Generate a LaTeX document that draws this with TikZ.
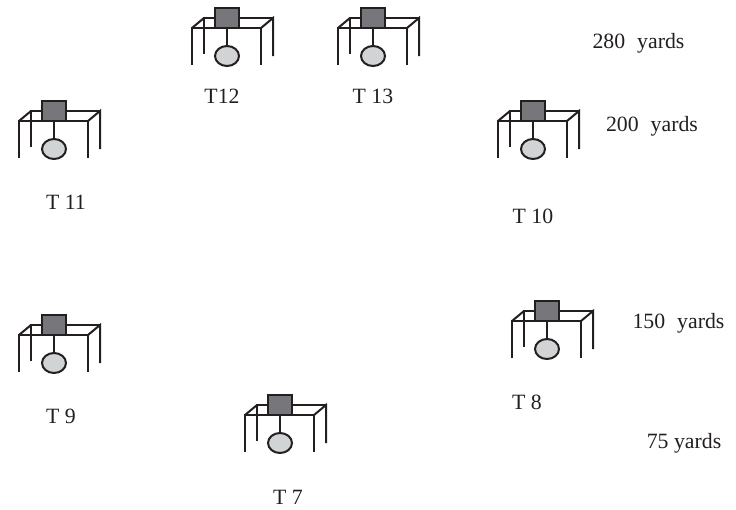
\documentclass[tikz,border=0pt]{standalone}
\usepackage{fontspec}
\setmainfont{Liberation Serif}
\usepackage{xcolor}
\usetikzlibrary{positioning,shapes.geometric}
\definecolor{frameline}{HTML}{231F20}
\definecolor{boxgray}{HTML}{77777B}
\definecolor{holegray}{HTML}{D1D3D4}

\tikzset{
  lbl/.style={font=\fontsize{21.8}{24}\selectfont,text=frameline,inner sep=0pt},
  bar/.style={draw=frameline,line width=2pt,line join=miter},
  tent/.pic={
    \draw[bar] (-23,36) -- (-23,0) -- (46,0);
    \draw[bar] (-35,47) -- (-35,10) -- (34,10) -- (34,47);
    \draw[bar] (-35,10) -- (-23,0);
    \draw[bar] (34,10) -- (46,0) -- (46,38);
    \draw[bar] (0,10) -- (0,28);
    \node[draw=frameline,fill=boxgray,line width=2pt,minimum width=24pt,minimum height=20pt,inner sep=0pt] (-box) at (0,0) {};
    \node[ellipse,draw=frameline,fill=holegray,line width=2pt,minimum width=24pt,minimum height=20pt,inner sep=0pt] (-hole) at (0,38) {};
  }
}

\begin{document}
\begin{tikzpicture}[x=1pt,y=-1pt]
\useasboundingbox (0,0) rectangle (736,509);
\pic (t12) at (227,18) {tent};
\pic (t13) at (373,18) {tent};
\pic (t11) at (54,111) {tent};
\pic (t10) at (533,111) {tent};
\pic (t9) at (54,325) {tent};
\pic (t8) at (547,311) {tent};
\pic (t7) at (280,405) {tent};
\node[lbl] (l12) at (222,96) {T12};
\node[lbl] (l13) at (373,96) {T 13};
\node[lbl] (l11) at (66,202) {T 11};
\node[lbl] (l10) at (533,216) {T 10};
\node[lbl] (l9) at (61,416) {T 9};
\node[lbl] (l8) at (527,402) {T 8};
\node[lbl] (l7) at (288,497.5) {T 7};
\node[lbl] (y280) at (638.5,43) {280\hspace{12pt}yards};
\node[lbl] (y200) at (652,126) {200\hspace{12pt}yards};
\node[lbl] (y150) at (678.5,323) {150\hspace{12pt}yards};
\node[lbl] (y75) at (684,443) {75 yards};
\end{tikzpicture}
\end{document}
